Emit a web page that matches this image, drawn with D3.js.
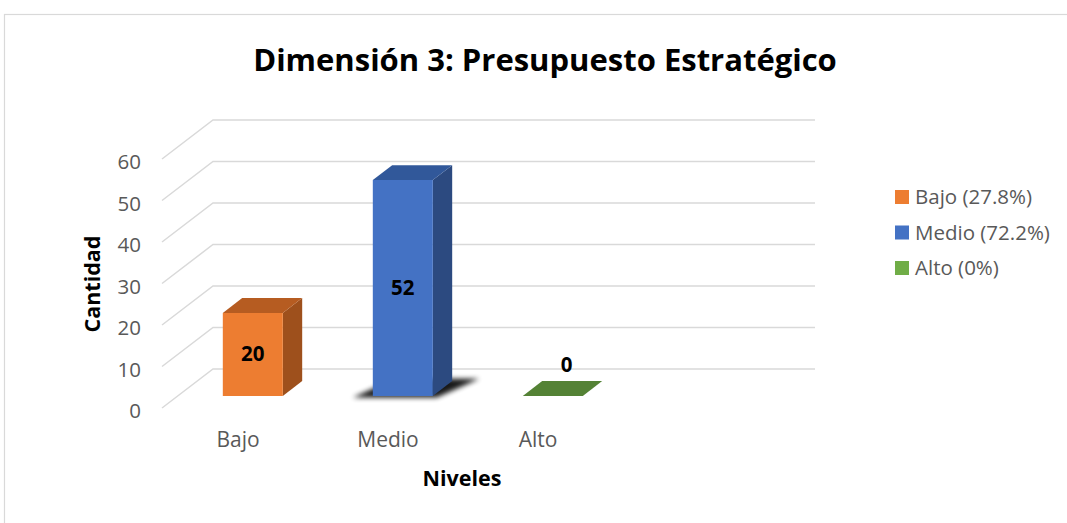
<!DOCTYPE html>
<html lang="es">
<head>
<meta charset="utf-8">
<title>Dimensión 3: Presupuesto Estratégico</title>
<script src="https://d3js.org/d3.v7.min.js"></script>
<style>
  body { margin: 0; background: #fff; }
  text { font-family: "Open Sans", "Liberation Sans", sans-serif; }
</style>
</head>
<body>
<script>
// data
var categories = ["Bajo", "Medio", "Alto"];
var values = [20, 52, 0];
var legendLabels = ["Bajo (27.8%)", "Medio (72.2%)", "Alto (0%)"];
var yTicks = [0, 10, 20, 30, 40, 50, 60];

var colors = {
  front: ["#ED7D31", "#4472C4", "#70AD47"],
  side:  ["#9E501C", "#2C4A80", "#486F2D"],
  top:   ["#B65C21", "#31589A", "#548235"]
};

var w = 1067, h = 523;

// oblique 3D set up
var x0 = 162, plotW = 602;
var depth = { dx: 51, dy: -39 };
var barZ = [0.31, 0.69];

var svg = d3.select("body").append("svg")
  .attr("width", w)
  .attr("height", h);

// chart border
svg.append("rect")
  .attr("x", 4.5).attr("y", 14.5)
  .attr("width", w + 10).attr("height", h + 10)
  .attr("fill", "none")
  .attr("stroke", "#d9d9d9")
  .attr("stroke-width", 1.2);

var y = d3.scaleLinear().domain([0, 60]).range([408, 159]);
var x = d3.scaleBand().domain(categories).range([x0, x0 + 450]);

function pt(px, v, z) {
  return [px + z * depth.dx, y(v) + z * depth.dy];
}
function poly(pts) { return pts.map(function(p){ return p.join(","); }).join(" "); }

// gridlines (front diagonal + back wall line)
var grid = svg.append("g")
  .attr("stroke", "#d9d9d9")
  .attr("stroke-width", 1.5)
  .attr("fill", "none");

grid.selectAll("polyline")
  .data(yTicks)
  .enter()
  .append("polyline")
  .attr("points", function(d) {
    return poly([pt(x0, d, 0), pt(x0, d, 1), pt(x0 + plotW, d, 1)]);
  });

// y tick labels
svg.append("g").selectAll("text")
  .data(yTicks)
  .enter()
  .append("text")
  .attr("x", 141)
  .attr("y", function(d){ return y(d) + 10; })
  .attr("text-anchor", "end")
  .attr("font-size", 20.5)
  .attr("fill", "#595959")
  .text(function(d){ return d; });

// shadow filter
var defs = svg.append("defs");
defs.append("filter").attr("id", "blur")
  .attr("x", "-50%").attr("y", "-50%").attr("width", "200%").attr("height", "200%")
  .append("feGaussianBlur").attr("stdDeviation", 2.5);

var bw = x.bandwidth() * 0.4;

var bars = svg.append("g").selectAll("g")
  .data(categories)
  .enter()
  .append("g");

bars.each(function(c, i) {
  var g = d3.select(this);
  var v = values[i];
  var xl = x(c) + x.bandwidth() / 2 - bw / 2;
  var xr = xl + bw;
  var z1 = barZ[0], z2 = barZ[1];

  if (c === "Medio") {
    g.append("polygon")
      .attr("points", poly([
        pt(xl - 18, 0, z1 - 0.04), pt(xr + 6, 0, z1 - 0.04),
        pt(xr + 24, 0, z2 + 0.06), pt(xl, 0, z2 + 0.06)]))
      .attr("fill", "#000")
      .attr("opacity", 0.9)
      .attr("filter", "url(#blur)");
  }

  if (v > 0) {
    g.append("polygon") // side
      .attr("points", poly([pt(xr, 0, z1), pt(xr, 0, z2), pt(xr, v, z2), pt(xr, v, z1)]))
      .attr("fill", colors.side[i]);
    g.append("polygon") // front
      .attr("points", poly([pt(xl, 0, z1), pt(xr, 0, z1), pt(xr, v, z1), pt(xl, v, z1)]))
      .attr("fill", colors.front[i]);
  }
  g.append("polygon") // top
    .attr("points", poly([pt(xl, v, z1), pt(xr, v, z1), pt(xr, v, z2), pt(xl, v, z2)]))
    .attr("fill", colors.top[i]);

  var f = pt((xl + xr) / 2, v / 2, z1);
  var lx = v > 0 ? f[0] : pt((xl + xr) / 2, 0, 0.5)[0] + 4;
  var ly = v > 0 ? f[1] + 7 : pt(0, 0, 0.5)[1] - 17;
  g.append("text")
    .attr("x", lx).attr("y", ly)
    .attr("text-anchor", "middle")
    .attr("font-size", 20.5)
    .attr("font-weight", "bold")
    .attr("fill", "#000")
    .text(v);
});

// category labels
svg.append("g").selectAll("text")
  .data(categories)
  .enter()
  .append("text")
  .attr("x", function(d){ return x(d) + x.bandwidth() / 2 + 1; })
  .attr("y", 447)
  .attr("text-anchor", "middle")
  .attr("font-size", 21)
  .attr("fill", "#595959")
  .text(function(d){ return d; });

// title
svg.append("text")
  .attr("x", 545).attr("y", 71)
  .attr("text-anchor", "middle")
  .attr("font-size", 31)
  .attr("font-weight", "bold")
  .attr("fill", "#000")
  .text("Dimensión 3: Presupuesto Estratégico");

// axis titles
svg.append("text")
  .attr("x", 462).attr("y", 486)
  .attr("text-anchor", "middle")
  .attr("font-size", 21.5)
  .attr("font-weight", "bold")
  .text("Niveles");

svg.append("text")
  .attr("transform", "translate(100,284) rotate(-90)")
  .attr("text-anchor", "middle")
  .attr("font-size", 21.5)
  .attr("font-weight", "bold")
  .text("Cantidad");

// legend
var legend = svg.append("g").selectAll("g")
  .data(legendLabels)
  .enter()
  .append("g")
  .attr("transform", function(d, i){ return "translate(895," + (190 + i * 35.5) + ")"; });

legend.append("rect")
  .attr("width", 14).attr("height", 14)
  .attr("fill", function(d, i){ return colors.front[i]; });

legend.append("text")
  .attr("x", 20).attr("y", 14)
  .attr("font-size", 20.5)
  .attr("fill", "#595959")
  .text(function(d){ return d; });
</script>
</body>
</html>
